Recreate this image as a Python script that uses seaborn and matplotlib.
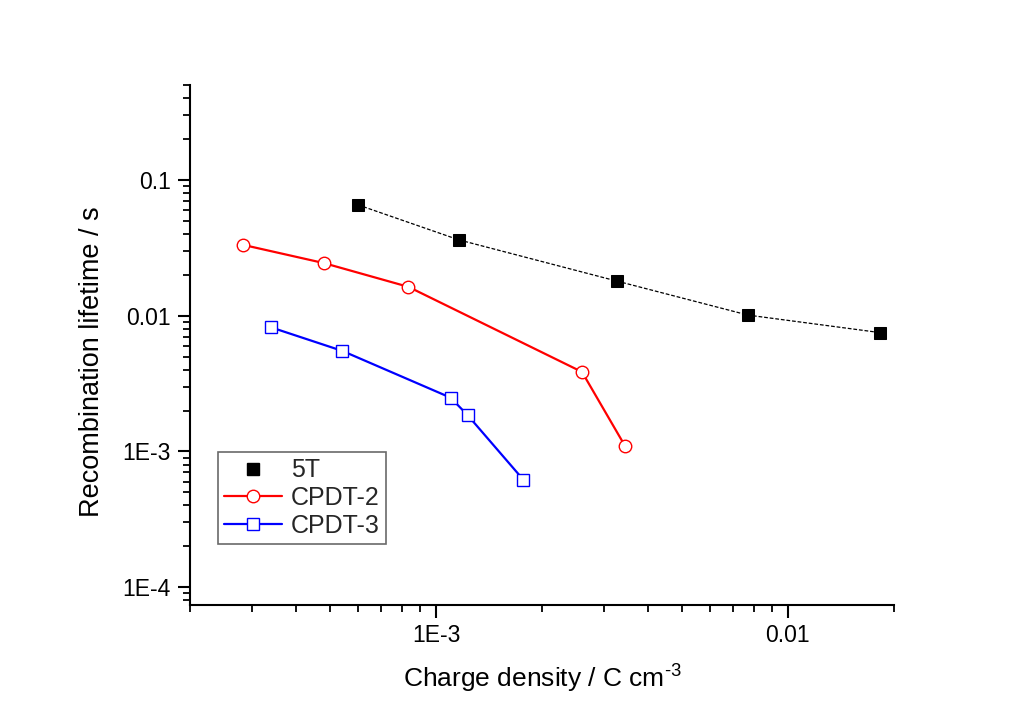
import matplotlib

matplotlib.use("Agg")
import matplotlib.pyplot as plt
import matplotlib.ticker as mticker
from matplotlib.lines import Line2D
import seaborn as sns

# --- data ---
x_5t = [6.0e-4, 1.16e-3, 3.26e-3, 7.7e-3, 1.83e-2]
y_5t = [0.0655, 0.0362, 0.0180, 0.0101, 0.0075]

x_cpdt2 = [2.82e-4, 4.8e-4, 8.35e-4, 2.6e-3, 3.45e-3]
y_cpdt2 = [0.0333, 0.0244, 0.0163, 0.00385, 0.00109]

x_cpdt3 = [3.4e-4, 5.42e-4, 1.10e-3, 1.23e-3, 1.77e-3]
y_cpdt3 = [0.0082, 0.0055, 0.00249, 0.00185, 6.2e-4]

series_labels = ["5T", "CPDT-2", "CPDT-3"]

sns.set_theme(style="ticks")
plt.rcParams["font.family"] = ["Liberation Sans", "DejaVu Sans"]
plt.rcParams["mathtext.fontset"] = "custom"
plt.rcParams["mathtext.rm"] = "Liberation Sans"

fig = plt.figure(figsize=(10.2, 7.13), dpi=100)
ax = fig.add_axes([0.1863, 0.1515, 0.690, 0.7293])
ax.set(xscale="log", yscale="log")

sns.lineplot(x=x_5t, y=y_5t, ax=ax, color="black", linewidth=0.9,
             linestyle=(0, (3, 1.5)), marker="s", markersize=8.5,
             markerfacecolor="black", markeredgecolor="black")
sns.lineplot(x=x_cpdt2, y=y_cpdt2, ax=ax, color="#ff0000", linewidth=1.6,
             marker="o", markersize=9, markerfacecolor="white",
             markeredgecolor="#ff0000", markeredgewidth=1.0)
sns.lineplot(x=x_cpdt3, y=y_cpdt3, ax=ax, color="#0000ff", linewidth=1.6,
             marker="s", markersize=8, markerfacecolor="white",
             markeredgecolor="#0000ff", markeredgewidth=1.0)

ax.set_xlim(2e-4, 2e-2)
ax.set_ylim(7.4e-5, 0.5)

sns.despine(ax=ax)
for side in ("left", "bottom"):
    ax.spines[side].set_linewidth(1.5)
    ax.spines[side].set_color("black")

labels_map = {1e-4: "1E-4", 1e-3: "1E-3", 1e-2: "0.01", 1e-1: "0.1"}


def fmt(v, pos):
    for k, s in labels_map.items():
        if abs(v - k) / k < 1e-6:
            return s
    return ""


for axis in (ax.xaxis, ax.yaxis):
    axis.set_major_locator(mticker.LogLocator(base=10, numticks=10))
    axis.set_minor_locator(mticker.LogLocator(base=10, subs=range(2, 10), numticks=10))
    axis.set_major_formatter(mticker.FuncFormatter(fmt))
    axis.set_minor_formatter(mticker.NullFormatter())

ax.tick_params(which="major", direction="out", length=9, width=1.5,
               colors="black", labelsize=16.5, pad=5)
ax.tick_params(which="minor", direction="out", length=5, width=1.3, colors="black")

ax.set_xlabel(r"Charge density / C cm$^{\text{-3}}$", fontsize=19, labelpad=10,
              color="black")
ax.set_ylabel("Recombination lifetime / s", fontsize=19.5, color="black")
ax.yaxis.set_label_coords(-0.121, 0.467)

# legend: 5T shows only its marker, the other two show line + marker
handles = [
    Line2D([], [], linestyle="none", marker="s", markersize=8.5, color="black"),
    Line2D([], [], color="#ff0000", linewidth=1.6, marker="o", markersize=9,
           markerfacecolor="white", markeredgecolor="#ff0000"),
    Line2D([], [], color="#0000ff", linewidth=1.6, marker="s", markersize=8,
           markerfacecolor="white", markeredgecolor="#0000ff"),
]
leg = ax.legend(handles, series_labels, loc="upper left",
                bbox_to_anchor=(0.04, 0.294), borderaxespad=0, fontsize=18,
                frameon=True, fancybox=False, edgecolor="#444444",
                handlelength=2.3, handletextpad=0.35, labelspacing=0.15,
                borderpad=0.25)
leg.get_frame().set_linewidth(1.2)

fig.savefig("out.png", dpi=100, facecolor="white")
